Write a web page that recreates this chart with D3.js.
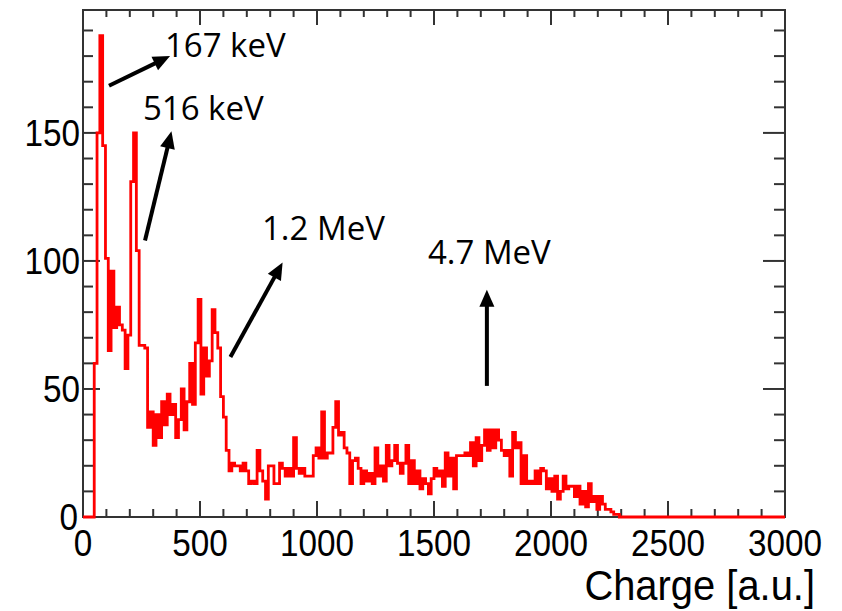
<!DOCTYPE html>
<html><head><meta charset="utf-8">
<script src="https://cdn.jsdelivr.net/npm/d3@7"></script>
<style>body{margin:0;background:#fff}svg{display:block}</style>
</head><body>
<svg id="c" width="842" height="611"></svg>
<script>
// ---- data ----
const binWidth = 12;          // charge units per bin (0..3000, 250 bins)
const counts = [
0,0,0,0,60,150,188,145,101,65,
96,74,82,75,73,58,71,131,150,104,
67,67,66,35,41,28,40,31,45,36,
48,40,44,31,38,50,34,45,60,44,
68,85,48,66,55,61,81,72,66,47,
39,26,18,21,20,20,18,21,18,13,
14,13,26,18,14,7,20,20,13,13,
21,19,16,19,16,31,19,17,19,16,
16,16,24,27,23,41,23,25,25,35,
45,32,33,27,25,13,22,23,19,13,
18,14,17,13,27,16,20,14,28,20,
22,28,21,17,21,28,13,22,13,18,
11,15,13,9,15,19,16,18,12,25,
16,23,11,24,24,24,25,24,29,20,
31,22,28,34,26,34,27,34,30,26,
24,26,16,33,27,29,13,24,13,14,
13,18,13,19,18,11,15,10,16,7,
10,16,11,12,12,8,12,5,10,4,
13,6,8,3,8,5,3,3,2,1,
1,0,0,0,0,0,0,0,0,0,
0,0,0,0,0,0,0,0,0,0,
0,0,0,0,0,0,0,0,0,0,
0,0,0,0,0,0,0,0,0,0,
0,0,0,0,0,0,0,0,0,0,
0,0,0,0,0,0,0,0,0,0
];
const xMajorTicks = [0, 500, 1000, 1500, 2000, 2500, 3000];
const xTickLabels = ["0", "500", "1000", "1500", "2000", "2500", "3000"];
const yMajorTicks = [0, 50, 100, 150];
const yTickLabels = ["0", "50", "100", "150"];
const xTitle = "Charge [a.u.]";
const annLabels = ["167 keV", "516 keV", "1.2 MeV", "4.7 MeV"];
// annotation anchors in data coordinates: [textX, textY, tailX, tailY, tipX, tipY]
const annAnchors = [
  [350, 179.7, 111, 168.4, 372, 180],
  [256, 155, 265, 108, 378, 150.6],
  [765, 108, 630, 62.5, 853, 99.4],
  [1474, 98.8, 1726, 51.2, 1726, 88.7]
];

// ---- layout ----
const svg = d3.select("#c");
const X0 = 83, X1 = 785, Y0 = 517, Y1 = 10;
const x = d3.scaleLinear().domain([0, 3000]).range([X0, X1]);
const y = d3.scaleLinear().domain([0, 198]).range([Y0, Y1]);
const frameCol = "#333";

// frame
svg.append("rect").attr("x", X0).attr("y", Y1).attr("width", X1 - X0).attr("height", Y0 - Y1)
  .attr("fill", "none").attr("stroke", frameCol).attr("stroke-width", 2);

// ticks
const xMinor = d3.range(0, 3001, 100).filter(v => v % 500 !== 0);
const yMinor = d3.range(0, 198, 10).filter(v => v % 50 !== 0);
const tg = svg.append("g").attr("stroke", frameCol).attr("stroke-width", 2);
xMajorTicks.forEach(v => {
  tg.append("line").attr("x1", x(v)).attr("x2", x(v)).attr("y1", Y0).attr("y2", Y0 - 16);
  tg.append("line").attr("x1", x(v)).attr("x2", x(v)).attr("y1", Y1).attr("y2", Y1 + 15);
});
xMinor.forEach(v => {
  tg.append("line").attr("x1", x(v)).attr("x2", x(v)).attr("y1", Y0).attr("y2", Y0 - 8);
  tg.append("line").attr("x1", x(v)).attr("x2", x(v)).attr("y1", Y1).attr("y2", Y1 + 7);
});
yMajorTicks.forEach(v => {
  tg.append("line").attr("x1", X0).attr("x2", X0 + 17).attr("y1", y(v)).attr("y2", y(v));
  tg.append("line").attr("x1", X1).attr("x2", X1 - 22).attr("y1", y(v)).attr("y2", y(v));
});
yMinor.forEach(v => {
  tg.append("line").attr("x1", X0).attr("x2", X0 + 10).attr("y1", y(v)).attr("y2", y(v));
  tg.append("line").attr("x1", X1).attr("x2", X1 - 11).attr("y1", y(v)).attr("y2", y(v));
});

// histogram (step outline)
const pts = counts.map((c, i) => [i * binWidth, c]);
pts.push([counts.length * binWidth, counts[counts.length - 1]]);
const line = d3.line().x(d => x(d[0])).y(d => y(d[1])).curve(d3.curveStepAfter);
svg.append("path").attr("d", line(pts)).attr("fill", "none")
  .attr("stroke", "#ff0000").attr("stroke-width", 2.8).attr("stroke-linejoin", "miter");

// tick labels (condensed Helvetica look)
const lf = "'Liberation Sans', Arial, Helvetica, sans-serif";
const sx = 0.9;
svg.append("g").selectAll("text").data(xMajorTicks).join("text")
  .attr("transform", d => `translate(${x(d)},556) scale(${sx},1)`).attr("text-anchor", "middle")
  .attr("font-family", lf).attr("font-size", 37).attr("fill", "#000")
  .text((d, i) => xTickLabels[i]);
svg.append("g").selectAll("text").data(yMajorTicks).join("text")
  .attr("transform", (d, i) => `translate(${i === 0 ? 78 : 80},${y(d) + 13}) scale(${sx},1)`).attr("text-anchor", "end")
  .attr("font-family", lf).attr("font-size", 37).attr("fill", "#000")
  .text((d, i) => yTickLabels[i]);
svg.append("text").attr("transform", `translate(815,600) scale(0.95,1)`).attr("text-anchor", "end")
  .attr("font-family", lf).attr("font-size", 42).attr("fill", "#000").text(xTitle);

// annotations
const ag = svg.append("g");
annLabels.forEach((lab, i) => {
  const a = annAnchors[i];
  ag.append("text").attr("x", x(a[0])).attr("y", y(a[1]))
    .attr("font-family", "'Open Sans', sans-serif").attr("font-size", 33).attr("fill", "#000").text(lab);
  const tx = x(a[2]), ty = y(a[3]), hx = x(a[4]), hy = y(a[5]);
  const dx = hx - tx, dy = hy - ty, L = Math.hypot(dx, dy), ux = dx / L, uy = dy / L;
  const hl = 17, hw = 7.5;
  const bx = hx - ux * hl, by = hy - uy * hl;
  ag.append("line").attr("x1", tx).attr("y1", ty).attr("x2", bx + ux * 2).attr("y2", by + uy * 2)
    .attr("stroke", "#000").attr("stroke-width", 4);
  ag.append("polygon").attr("points", [[hx, hy], [bx - uy * hw, by + ux * hw], [bx + uy * hw, by - ux * hw]].map(p => p.join(",")).join(" "))
    .attr("fill", "#000");
});
</script>
</body></html>
